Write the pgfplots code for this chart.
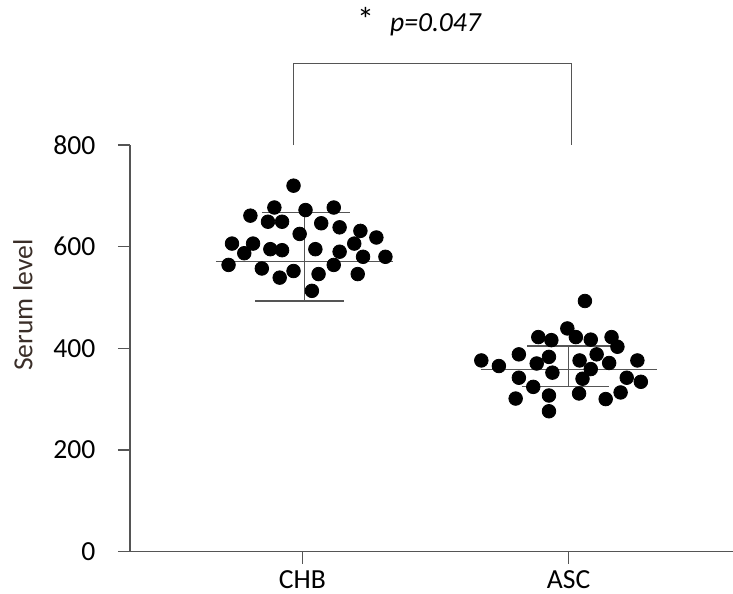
\documentclass[border=0pt]{standalone}
\usepackage{pgfplots}
\pgfplotsset{compat=1.18}
\usepackage{pgfplotstable}
\usepackage{fontspec}
\setmainfont{Carlito}
\definecolor{axgray}{HTML}{555555}
\definecolor{labcol}{HTML}{3A2E28}

\pgfplotstableread{
x y
-0.033 720
-0.105 677
0.012 672
0.118 677
-0.195 661
-0.129 649
-0.076 649
0.071 646
0.140 638
0.218 631
-0.010 625
0.278 618
-0.264 606
-0.185 606
0.195 606
-0.120 595
-0.076 593
0.049 595
-0.218 587
0.140 590
0.228 580
0.312 580
-0.277 564
-0.152 557
0.118 564
-0.033 552
-0.085 539
0.061 546
0.208 546
0.036 513
}\chb

\pgfplotstableread{
x y
1.061 493
0.995 439
0.886 422
0.935 416
1.027 422
1.083 417
1.161 422
1.183 403
0.813 388
0.926 383
1.105 388
0.672 376
0.880 370
1.041 376
1.152 371
1.258 376
0.738 365
1.083 359
0.939 352
0.813 342
1.052 340
1.218 342
1.271 334
0.867 324
0.926 307
1.039 311
1.195 313
0.801 301
1.139 300
0.926 276
}\asc

\begin{document}
\fontsize{13.8bp}{16bp}\selectfont
\begin{tikzpicture}
\begin{axis}[
  at={(0,0)}, anchor=south west,
  scale only axis,
  width=301.5bp, height=203.25bp,
  xmin=-0.647, xmax=1.617,
  ymin=0, ymax=800,
  clip=false,
  axis lines=left,
  axis line style={-, axgray, line width=0.75bp},
  xtick={0,1}, xticklabels={CHB,ASC},
  ytick={0,200,400,600,800},
  tick align=outside,
  major tick length=6bp,
  tick style={axgray, line width=0.75bp},
  /pgf/number format/assume math mode=true,
  ticklabel style={font=\fontsize{13.8bp}{16bp}\selectfont, text=black},
  yticklabel style={xshift=-6.5bp},
  xticklabel style={yshift=1.5bp},
  ylabel={Serum level},
  every axis y label/.style={at={(rel axis cs:0,0.606)}, xshift=-53.5bp, rotate=90, anchor=center,
     font=\fontsize{13.8bp}{16bp}\selectfont, text=labcol},
]
% bracket
\addplot[axgray, line width=0.6bp] coordinates {(-0.034,800) (-0.034,960) (1.011,960) (1.011,800)};
% error bars CHB
\addplot[axgray, line width=0.6bp] coordinates {(-0.325,571) (0.341,571)};
\addplot[axgray, line width=0.6bp] coordinates {(-0.152,667) (0.180,667)};
\addplot[axgray, line width=0.6bp] coordinates {(-0.177,493) (0.155,493)};
\addplot[axgray, line width=0.6bp] coordinates {(0.008,493) (0.008,667)};
% error bars ASC
\addplot[axgray, line width=0.6bp] coordinates {(0.669,358.6) (1.333,358.6)};
\addplot[axgray, line width=0.6bp] coordinates {(0.845,404.5) (1.164,404.5)};
\addplot[axgray, line width=0.6bp] coordinates {(0.823,325) (1.152,325)};
\addplot[axgray, line width=0.6bp] coordinates {(1.0,325) (1.0,404.5)};
% points
\addplot[only marks, mark=*, mark size=3.4bp, black] table[x=x,y=y] {\chb};
\addplot[only marks, mark=*, mark size=3.4bp, black] table[x=x,y=y] {\asc};
\node[font=\fontsize{13.8bp}{16bp}\selectfont, anchor=center] at (axis cs:0.440,1042) {{\fontsize{17bp}{18bp}\selectfont *}\hspace{8bp}\textit{p=0.047}};
\end{axis}
\pgfresetboundingbox
\path (-65bp,-21.25bp) rectangle (301.5bp,275.75bp);
\end{tikzpicture}
\end{document}
